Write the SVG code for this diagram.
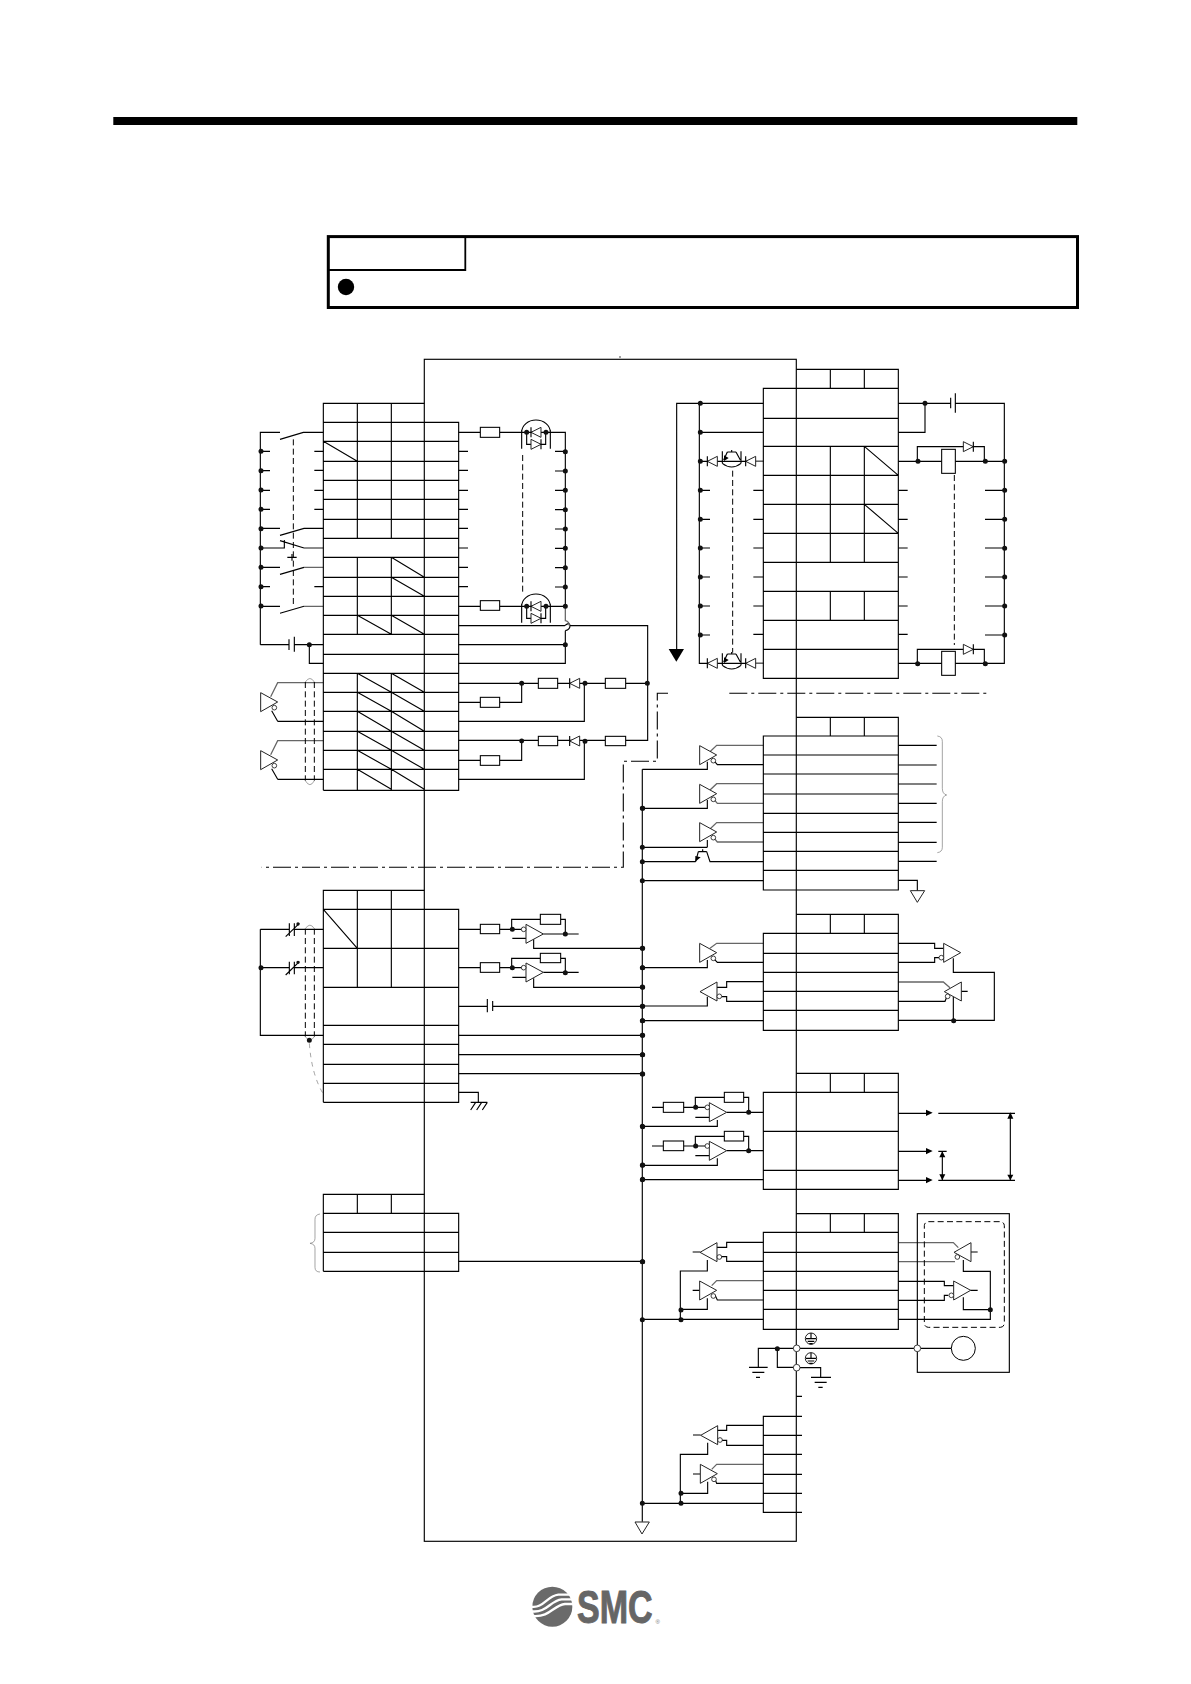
<svg xmlns="http://www.w3.org/2000/svg" width="1191" height="1684" viewBox="0 0 1191 1684">
<style>
.w{fill:none;stroke:#000;stroke-width:3.4}
.g{fill:none;stroke:#666;stroke-width:3.8}
.f{fill:none;stroke:#000;stroke-width:1.15}
.da{fill:none;stroke:#000;stroke-width:3;stroke-dasharray:18 10}
.sh{fill:none;stroke:#777;stroke-width:2}
.dd{fill:none;stroke:#000;stroke-width:1.1;stroke-dasharray:18 4 3 4}
.d{fill:none;stroke:#111;stroke-width:15;stroke-linecap:round}
.r{fill:#fff;stroke:#000;stroke-width:3.2}
.t{fill:#fff;stroke:#222;stroke-width:3}
.o{fill:#fff;stroke:#222;stroke-width:2.6}
.k{fill:#000;stroke:none}
</style>
<defs>
<g id="drvR"><polygon class="t" points="0,0 0,57 51,28"/><circle class="o" cx="41" cy="45" r="7"/></g>
<g id="drvL"><polygon class="t" points="51,0 51,57 0,29"/><circle class="o" cx="58" cy="43" r="7"/></g>
<g id="drvR2"><polygon class="t" points="0,0 0,57 51,28"/><circle class="o" cx="-7" cy="43" r="7"/></g>
<g id="drvL2"><polygon class="t" points="51,0 51,57 0,29"/><circle class="o" cx="10" cy="43" r="7"/></g>
<g id="dl"><polygon class="t" points="15,-15 15,15 -15,0"/><path class="w" d="M-15 -15V15"/></g>
<g id="dr"><polygon class="t" points="-15,-15 -15,15 15,0"/><path class="w" d="M15 -15V15"/></g>
<g id="cpl"><path class="w" d="M-43 0A43 37 0 0 1 43 0M-43 -7V49M43 -7V49M-28 0V36H-14M14 36H29V0"/><use href="#dl" x="0" y="0"/><use href="#dr" x="0" y="36"/><path class="d" d="M-28 0h.01M30 0h.01"/></g>
<g id="q"><path class="w" d="M-28 -30V6M28 -30V6M-28 6Q0 28 28 6M-13 -28H13M0 -34V-28M-13 -28L-24 -4M13 -28L26 -4"/><polygon class="k" points="-23,-18 -9,-10 -23,-1"/></g>
<g id="pe"><circle cx="0" cy="0" r="17" fill="#fff" stroke="#000" stroke-width="2.6"/><path class="w" d="M0 -17V0M-15 0H15M-10 8H10M-5 15H5"/></g>
</defs>

<g id="page-rule"><rect x="113.3" y="117" width="964" height="8" fill="#000"/></g>
<g id="note-box">
<rect x="328.3" y="236.6" width="749.2" height="70.9" fill="none" stroke="#000" stroke-width="3"/>
<path d="M329 270H465.3V237" fill="none" stroke="#000" stroke-width="1.8"/>
<circle cx="346" cy="287" r="8.2" fill="#000"/>
</g>

<g id="connectors">
<rect x="424.3" y="359.3" width="372" height="1182" class="f"/>
<circle cx="620" cy="357" r=".7" fill="#000"/>
<path class="f" d="M642.3 769.3V1521.7"/>
<path class="dd" d="M668 693.3H657.3V761.3H623.3V867.3H261.7"/>
<path class="dd" d="M729.3 693.3H986.7"/>

<g transform="translate(230 350) scale(.33333)">
<path class="w" d="M91 884V247H150M150 268L220 247H280M91 535H150M150 556L222 535H280M91 594H163V570M150 572L222 594M91 652H150M150 673L222 652M91 769H150M150 790L222 769M91 304H120M91 362H120M91 421H120M91 478H120M91 710H120M253 304H280M253 361H280M253 421H280M253 478H280M253 710H280M172 622H200M186 612V632M91 884H177M193 884H280M177 868V900M193 860V905M238 884V940H280"/>
<path class="g" d="M222 594H280M222 652H280M222 769H280"/>
<path class="da" d="M190 268V765M878 315V735"/>
<path class="w" d="M686 247H751M809 247H1006V769M686 304H714M686 361H714M686 421H714M686 478H714M686 535H714M686 594H714M686 652H714M686 710H714M975 304H1006M975 363H1006M975 421H1006M975 479H1006M975 537H1006M975 595H1006M975 653H1006M975 711H1006M686 769H751M809 769H1006M686 827H1004Q1020 815 1020 827Q1020 838 1006 842M1020 827H1253V1171H1187M686 884H1006M686 940H1006V842"/>
<path class="g" d="M1006 769V812Q1018 815 1018 827"/>
<path class="w" d="M686 1000H925M983 1000H1126M1187 1000H1253M686 1057H751M809 1057H875V1000M686 1114H1063V1000M686 1171H925M983 1171H1126M686 1231H751M809 1231H875V1173M686 1288H1063V1174M143 1114H280M143 1114L125 1082M143 1288H280M143 1288L125 1256"/>
<path class="g" d="M280 998H143L122 1040M280 1172H143L122 1214"/>
<path class="da" d="M226 996V1292M253 996V1292"/>
<path class="sh" d="M226 996Q240 975 253 996M226 1292Q240 1316 253 1292"/>
<path class="d" d="M93 304h.01M93 362h.01M93 420h.01M93 478h.01M93 536h.01M93 594h.01M93 652h.01M93 710h.01M93 768h.01M238 884h.01M1006 305h.01M1006 363h.01M1006 421h.01M1006 479h.01M1006 537h.01M1006 595h.01M1006 653h.01M1006 711h.01M1006 769h.01M1006 884h.01M875 1000h.01M1065 1000h.01M1252 1000h.01M875 1173h.01M1065 1174h.01"/>
</g>

<g transform="translate(640 350) scale(.33333)">
<path class="w" d="M370 160H110V900M178 160V940H370M178 247H370M178 334H370M178 421H210M178 508H210M178 594H210M178 681H210M178 768H210M178 855H210M340 421H370M340 508H370M340 594H370M340 681H370M340 768H370M340 853H370"/>
<path class="g" d="M340 940H370M340 334H370"/>
<path class="da" d="M278 362V908M943 375V885"/>
<path class="w" d="M775 160H932M946 160H1093V940H775M932 143V175M946 130V188M855 160V247H775M775 334H1093M832 334V290H1033V334M775 421H803M775 508H803M775 594H803M775 681H803M775 768H803M775 853H803M1035 421H1093M1035 508H1093M1035 594H1093M1035 681H1093M1035 768H1093M1035 855H1093M832 940V898H1033V940"/>
<path class="d" d="M181 160h.01M181 247h.01M181 334h.01M181 421h.01M181 508h.01M181 594h.01M181 681h.01M181 768h.01M181 855h.01M855 160h.01M834 334h.01M1036 334h.01M1094 334h.01M1094 421h.01M1094 508h.01M1094 595h.01M1094 681h.01M1094 768h.01M1094 855h.01M833 941h.01M1036 941h.01"/>
</g>

<g transform="translate(230 780) scale(.33333)">
<path class="w" d="M91 448V766H280M91 448H178M193 448H280M91 563H178M193 563H280M178 430V468M193 430V468M178 545V583M193 545V583M167 470L208 430M167 585L208 545"/>
<path class="da" d="M226 446V770M253 446V770"/>
<path class="sh" d="M226 446Q240 425 253 446M226 770Q240 790 253 770"/>
<path class="sh" stroke-dasharray="14 14" d="M238 790Q245 885 280 942"/>
<path class="w" d="M686 448H751M809 448H888M845 448V418H931M992 418H1006V462M940 462H1046M847 475H888M911 478V505H1237M686 563H751M809 563H888M845 563V535H931M992 535H1006V577M940 577H1046M847 592H888M911 595V622H1237M686 679H772M788 679H1237M772 657V697M788 663V693M686 766H1237M686 824H1237M686 881H1237M686 937H745V967M722 967H772M722 990L737 967M740 990L755 967M757 990L772 967M686 1444H1237"/>
<path class="sh" d="M270 1302Q255 1304 255 1318V1375Q255 1388 240 1390Q255 1392 255 1405V1462Q255 1476 270 1476"/>
<path class="d" d="M93 563h.01M238 781h.01M847 448h.01M1006 462h.01M847 563h.01M1006 578h.01M1238 85h.01M1238 505h.01M1238 563h.01M1238 622h.01M1238 679h.01M1238 722h.01M1238 766h.01M1238 824h.01M1238 882h.01M1238 1040h.01M1238 1155h.01M1238 1198h.01M1238 1445h.01"/>
<path class="d" style="stroke-width:10" d="M204 432h.01M204 547h.01"/>
</g>

<g transform="translate(630 720) scale(.33333)">
<path class="w" d="M232 125V148H37M232 240V265H37M232 382H37M232 360V382M400 134H262L246 115M37 425H197M205 395H230M218 388V395M205 395L197 425M230 395L240 425H400M37 482H400"/>
<path class="g" d="M400 76H260L240 95M400 191H260L240 210M400 250H262L246 231M400 308H260L240 327M400 366H262L246 347"/>
<polygon class="k" points="196,425 196,408 212,412"/>
<path class="w" d="M805 76H920M805 135H920M805 192H920M805 250H920M805 307H920M805 367H920M805 424H920M805 481H862V512"/>
<path class="sh" d="M922 48Q937 50 937 64V205Q937 222 950 225Q937 228 937 245V382Q937 396 922 398"/>
<path class="w" d="M232 720V743H37M400 727H262L246 710M400 785H290V802H261M400 844H290V830H275M232 830V858H37M37 902H400"/>
<path class="g" d="M400 670H260L240 685"/>
<path class="w" d="M805 670H914V685H941M805 727H914V713H928M970 715V757H1093V901H805M970 830V901M994 814H1013M805 844H945L950 832"/>
<path class="g" d="M805 786H940L960 803"/>
<path class="d" d="M37 265h.01M37 382h.01M37 425h.01M37 482h.01M37 685h.01M37 743h.01M37 801h.01M37 859h.01M37 902h.01M37 946h.01M37 1004h.01M971 902h.01"/>
</g>

<g transform="translate(630 1060) scale(.33333)">
<path class="w" d="M66 142H100M161 142H238M196 142V112H283M341 112H356V157M290 157H400M196 172H238M262 180V199H37M66 258H100M161 258H238M196 258V229H283M341 229H356V272M290 272H400M196 287H238M262 295V316H37M37 359H400"/>
<path class="w" d="M805 160H890M805 274H890M805 361H890M925 160H1155M925 361H1155M925 274H950M1141 160V361M937 274V361"/>
<polygon class="k" points="888,149 888,168 908,158"/>
<polygon class="k" points="888,264 888,283 908,273"/>
<polygon class="k" points="888,351 888,370 908,360"/>
<polygon class="k" points="1132,176 1150,176 1141,157"/>
<polygon class="k" points="1132,344 1150,344 1141,361"/>
<polygon class="k" points="928,292 946,292 937,274"/>
<polygon class="k" points="928,343 946,343 937,361"/>
<path class="w" d="M188 576H210M400 547H290V562H261M400 604H290V590H275M232 600V633H151V778M188 691H209M400 720H262L255 705M232 715V748H153M37 778H400"/>
<path class="g" d="M400 662H260L245 677"/>
<path class="w" d="M1022 576H1043M1000 600V634H1081V778H805M805 664H943V677H971M805 721H943V706H955M1021 691H1043M1000 712V749H1081"/>
<path class="g" d="M805 548H970L985 563M805 605H975"/>
<path class="w" d="M385 921V865H852M872 865H964M442 865V922H510M510 923H572V952M357 922H413M367 937H403M378 952H390M543 952H603M554 967H590M565 982H578"/>
<path class="d" d="M197 142h.01M356 157h.01M197 258h.01M356 272h.01M37 42h.01M37 199h.01M37 316h.01M37 359h.01M37 605h.01M37 779h.01M153 750h.01M153 779h.01M1081 749h.01M442 866h.01"/>
</g>

<g transform="translate(620 1380) scale(.33333)">
<path class="w" d="M529 49H546M219 165H242M430 136H320V151H291M430 196H320V181H305M263 188V223H181V370M219 282H241M430 310H290L285 297M263 305V340H183M67 370H430"/>
<path class="g" d="M430 253H290L275 268"/>
<path class="d" d="M183 340h.01M183 370h.01M67 370h.01"/>
</g>
</g>

<g id="table-1" transform="translate(230 350) scale(.33333)">
<path class="w" d="M280 1321V160H583M280 217H686V1321H280M280 274H686M280 334H686M280 391H686M280 448H686M280 508H686M280 565H686M280 622H686M280 682H686M280 739H686M280 796H686M280 853H686M280 913H686M280 970H686M280 1027H686M280 1084H686M280 1144H686M280 1201H686M280 1258H686M382 160V565M484 160V565M382 622V853M484 622V853M382 970V1321M484 970V1321M280 274L382 334M484 622L583 682M484 682L583 739M382 796L484 853M484 796L583 853M382 970L484 1027M484 970L583 1027M382 1027L484 1084M484 1027L583 1084M382 1084L484 1144M484 1084L583 1144M382 1144L484 1201M484 1144L583 1201M382 1201L484 1258M484 1201L583 1258M382 1258L484 1318M484 1258L583 1318"/>
</g>
<g id="input-devices" transform="translate(230 350) scale(.33333)">
<rect class="r" x="751" y="232" width="58" height="30"/>
<rect class="r" x="751" y="752" width="58" height="29"/>
<use id="coupler-1" href="#cpl" x="918" y="247"/>
<use id="coupler-2" href="#cpl" x="918" y="769"/>
<rect class="r" x="925" y="985" width="58" height="30"/><use href="#dl" x="1034" y="1000"/><rect class="r" x="1126" y="985" width="61" height="30"/><rect class="r" x="751" y="1042" width="58" height="30"/>
<rect class="r" x="925" y="1159" width="58" height="28"/><use href="#dl" x="1034" y="1173"/><rect class="r" x="1126" y="1159" width="61" height="28"/><rect class="r" x="751" y="1217" width="58" height="29"/>
<use href="#drvR" x="92" y="1028"/><use href="#drvR" x="92" y="1202"/>
</g>

<g id="table-2" transform="translate(640 350) scale(.33333)">
<path class="w" d="M469 58H775V985H370V115H775M370 205H775M370 289H775M370 376H775M370 463H775M370 550H775M370 637H775M370 724H775M370 811H775M370 898H775M571 58V115M673 58V115M571 289V637M673 289V637M571 724V811M673 724V811M673 289L775 376M673 463L775 550"/>
</g>
<g id="output-devices" transform="translate(640 350) scale(.33333)">
<polygon class="k" points="86,897 132,897 109,935"/>
<use href="#dl" x="217" y="334"/><use href="#q" x="275" y="334"/><use href="#dl" x="332" y="334"/>
<use href="#dl" x="217" y="940"/><use href="#q" x="275" y="940"/><use href="#dl" x="332" y="940"/>
<rect class="r" x="905" y="298" width="41" height="72"/><use href="#dr" x="985" y="290"/>
<rect class="r" x="905" y="904" width="41" height="72"/><use href="#dr" x="985" y="898"/>
</g>

<g id="table-3" transform="translate(630 720) scale(.33333)">
<path class="w" d="M499 -8H805V510H400V48H805M400 105H805M400 162H805M400 222H805M400 280H805M400 337H805M400 394H805M400 451H805M601 -8V48M703 -8V48"/>
<use href="#drvR" x="209" y="77"/><use href="#drvR" x="209" y="193"/><use href="#drvR" x="209" y="308"/>
<polygon class="t" points="841,512 884,512 862,547"/>
</g>
<g id="table-4" transform="translate(630 720) scale(.33333)">
<path class="w" d="M499 583H805V931H400V640H805M400 700H805M400 757H805M400 814H805M400 871H805M601 583V640M703 583V640"/>
<use href="#drvR" x="209" y="670"/><use href="#drvL" x="210" y="786"/>
<use href="#drvR2" x="941" y="670"/><use href="#drvL2" x="943" y="786"/>
</g>

<g id="table-5" transform="translate(230 780) scale(.33333)">
<path class="w" d="M280 967V331H583M280 388H686V967H280M280 505H686M280 622H686M280 736H686M280 793H686M280 853H686M280 910H686M382 331V622M484 331V622M280 388L382 505"/>
<rect class="r" x="751" y="433" width="58" height="28"/><rect class="r" x="931" y="403" width="61" height="30"/>
<rect class="r" x="751" y="548" width="58" height="29"/><rect class="r" x="931" y="520" width="61" height="28"/>
<polygon class="t" points="888,433 888,490 940,462"/><circle class="o" cx="881" cy="448" r="7"/>
<polygon class="t" points="888,549 888,606 940,577"/><circle class="o" cx="881" cy="563" r="7"/>
</g>
<g id="table-6" transform="translate(230 780) scale(.33333)">
<path class="w" d="M280 1474V1243H583M280 1300H686V1474H280M280 1357H686M280 1417H686M382 1243V1300M484 1243V1300"/>
</g>

<g id="table-7" transform="translate(630 1060) scale(.33333)">
<path class="w" d="M499 40H805V388H400V97H805M400 214H805M400 331H805M601 40V97M703 40V97"/>
<rect class="r" x="100" y="127" width="61" height="30"/><rect class="r" x="283" y="97" width="58" height="30"/>
<rect class="r" x="100" y="243" width="61" height="29"/><rect class="r" x="283" y="214" width="58" height="29"/>
<polygon class="t" points="238,128 238,185 290,157"/><circle class="o" cx="232" cy="142" r="7"/>
<polygon class="t" points="238,244 238,301 290,272"/><circle class="o" cx="232" cy="258" r="7"/>
</g>
<g id="table-8" transform="translate(630 1060) scale(.33333)">
<path class="w" d="M499 461H805V808H400V517H805M400 577H805M400 634H805M400 691H805M400 748H805M601 461V517M703 461V517"/>
<use href="#drvL" x="210" y="548"/><use href="#drvR" x="209" y="663"/>
</g>
<g id="encoder" transform="translate(630 1060) scale(.33333)">
<rect x="862" y="461" width="276" height="476" class="w"/>
<rect x="883" y="485" width="240" height="317" rx="12" class="da"/>
<use href="#drvL2" x="972" y="548"/><use href="#drvR2" x="971" y="663"/>
<circle cx="1000" cy="865" r="36" fill="#fff" stroke="#000" stroke-width="3"/>
<circle class="o" cx="862" cy="865" r="10"/>
</g>
<g id="earth" transform="translate(630 1060) scale(.33333)">
<circle class="o" cx="500" cy="865" r="10"/><circle class="o" cx="500" cy="923" r="10"/>
<use href="#pe" x="543" y="836"/><use href="#pe" x="543" y="895"/>
</g>

<g id="table-9" transform="translate(620 1380) scale(.33333)">
<path class="w" d="M546 109H430V397H546M430 166H546M430 223H546M430 283H546M430 340H546"/>
<use href="#drvL" x="242" y="137"/><use href="#drvR" x="241" y="253"/>
<polygon class="t" points="45,426 88,426 66,462"/>
</g>

<g id="logo">
<g transform="translate(500 1570) scale(.33333)">
<circle cx="157" cy="110" r="60" fill="#6a6a6a"/>
<path d="M94 110C130 116 140 78 175 74L222 74M94 124C140 130 150 92 185 88L222 88M100 138C150 142 160 106 195 102L220 102" fill="none" stroke="#fff" stroke-width="7"/>
</g>
<text transform="translate(577 1623) scale(.74 1)" font-family="Liberation Sans, Arial, sans-serif" font-weight="700" font-size="46" fill="#666" stroke="#666" stroke-width="1">SMC</text>
<text x="655.5" y="1624" font-family="Liberation Sans, Arial, sans-serif" font-size="6" fill="#777">®</text>
</g>
</svg>
